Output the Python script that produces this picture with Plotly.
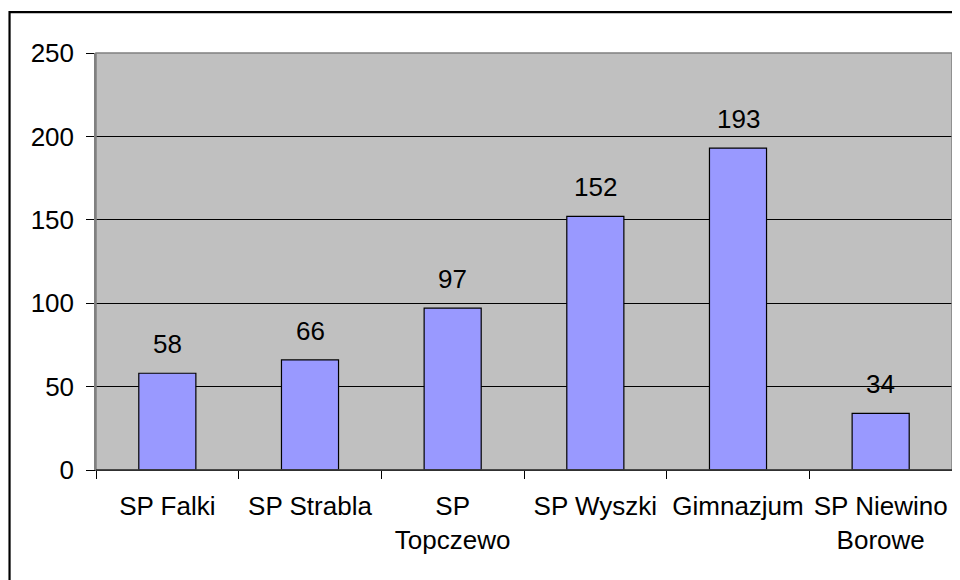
import plotly.graph_objects as go

categories = ["SP Falki", "SP Strabla", "SP<br>Topczewo", "SP Wyszki", "Gimnazjum", "SP Niewino<br>Borowe"]
values = [58, 66, 97, 152, 193, 34]
y_ticks = [0, 50, 100, 150, 200, 250]

FONT = "Liberation Sans, Arial, sans-serif"
FS = 26

fig = go.Figure()
fig.add_trace(go.Bar(
    x=categories, y=values,
    marker=dict(color="#9999FF", line=dict(color="black", width=1.2)),
    width=0.4,
    hoverinfo="skip",
))

for c, v in zip(categories, values):
    fig.add_annotation(x=c, y=v, text=str(v), showarrow=False,
                       yanchor="bottom", yshift=12,
                       font=dict(family=FONT, size=FS, color="black"))

# page has an 8px body margin, so the figure is sized/offset to fit the window
fig.update_layout(
    width=952, height=572,
    margin=dict(l=88, r=8, t=45, b=110, pad=0, autoexpand=False),
    paper_bgcolor="white",
    plot_bgcolor="#C0C0C0",
    showlegend=False,
    font=dict(family=FONT, size=FS, color="black"),
    bargap=0.6,
    xaxis=dict(
        showgrid=False, showline=True, linecolor="black", linewidth=1,
        ticks="outside", ticklen=8, tickcolor="black", tickwidth=1,
        tickson="boundaries", mirror=False, tickangle=0, automargin=False,
        tickfont=dict(family=FONT, size=FS, color="black"),
        ticklabelstandoff=13,
    ),
    yaxis=dict(
        range=[0, 250], tickvals=y_ticks,
        showgrid=True, gridcolor="black", gridwidth=1,
        zeroline=False, automargin=False,
        showline=True, linecolor="#808080", linewidth=1.5,
        ticks="outside", ticklen=8, tickcolor="black", tickwidth=1,
        tickfont=dict(family=FONT, size=FS, color="black"),
        ticklabelstandoff=7,
    ),
    shapes=[
        dict(type="rect", xref="paper", yref="paper", x0=0, x1=1, y0=0, y1=1,
             line=dict(color="#808080", width=1.5), layer="above"),
        dict(type="line", xref="paper", yref="paper", x0=0, x1=1, y0=0, y1=0,
             line=dict(color="black", width=1.2), layer="above"),
        dict(type="rect", xref="paper", yref="paper",
             x0=-0.101, x1=1.2, y0=-0.5, y1=1.098,
             line=dict(color="black", width=2.2), layer="above"),
    ],
)

fig.write_html("out.html")
